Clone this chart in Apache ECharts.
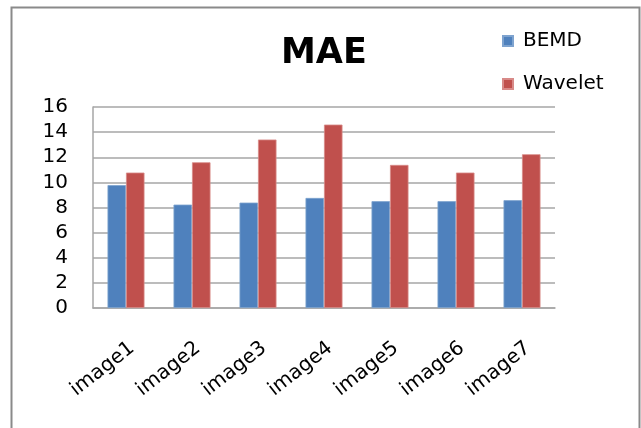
<!DOCTYPE html>
<html>
<head>
<meta charset="utf-8">
<title>MAE</title>
<script src="https://cdn.jsdelivr.net/npm/echarts@6/dist/echarts.min.js"></script>
<style>
  html, body { margin: 0; padding: 0; background: #fff; }
  #chart { width: 641px; height: 428px; }
</style>
</head>
<body>
<div id="chart"></div>
<script>
// Categories and series values
var categories = ['image1', 'image2', 'image3', 'image4', 'image5', 'image6', 'image7'];
var bemdValues = [9.78, 8.23, 8.39, 8.76, 8.5, 8.5, 8.58];
var waveletValues = [10.78, 11.6, 13.41, 14.6, 11.39, 10.78, 12.24];
var seriesNames = ['BEMD', 'Wavelet'];

var FONT = '"DejaVu Sans", "Liberation Sans", sans-serif';

var chart = echarts.init(document.getElementById('chart'), null, { renderer: 'canvas' });

chart.setOption({
  backgroundColor: '#ffffff',
  animation: false,
  textStyle: { fontFamily: FONT, color: '#000' },
  title: {
    text: 'MAE',
    left: 281,
    top: 36,
    padding: 0,
    textStyle: { fontFamily: FONT, fontSize: 35, fontWeight: 'bold', color: '#000', lineHeight: 35 }
  },
  legend: {
    orient: 'vertical',
    left: 502,
    top: 31,
    padding: 0,
    itemWidth: 10,
    itemHeight: 10,
    itemGap: 23,
    icon: 'rect',
    data: seriesNames,
    textStyle: { fontFamily: FONT, fontSize: 20, color: '#000', lineHeight: 20, padding: [0, 0, 0, 5] }
  },
  graphic: [{
    type: 'rect',
    shape: { x: 11.5, y: 7.5, width: 628, height: 440 },
    style: { fill: 'none', stroke: '#8a8a8a', lineWidth: 2 },
    silent: true,
    z: -1
  }],
  grid: { left: 93, right: 86, top: 107, bottom: 120, containLabel: false },
  xAxis: {
    type: 'category',
    data: categories,
    axisLine: { show: true, lineStyle: { color: '#a6a6a6', width: 1.5 } },
    axisTick: { show: false },
    axisLabel: {
      rotate: 38,
      margin: 30,
      fontSize: 20,
      fontFamily: FONT,
      color: '#000',
      verticalAlign: 'top',
      interval: 0
    }
  },
  yAxis: {
    type: 'value',
    min: 0,
    max: 16,
    interval: 2,
    axisLine: { show: true, lineStyle: { color: '#a6a6a6', width: 1.5 } },
    axisTick: { show: false },
    splitLine: { show: true, lineStyle: { color: '#a6a6a6', width: 1.5 } },
    axisLabel: { fontSize: 20, fontFamily: FONT, color: '#000', margin: 25 }
  },
  series: [
    {
      name: seriesNames[0],
      type: 'bar',
      data: bemdValues,
      barGap: '0%',
      barCategoryGap: '44%',
      itemStyle: { color: '#4f81bd', borderColor: '#7ea3cf', borderWidth: 0.8 }
    },
    {
      name: seriesNames[1],
      type: 'bar',
      data: waveletValues,
      barGap: '0%',
      barCategoryGap: '44%',
      itemStyle: { color: '#c0504d', borderColor: '#d88a88', borderWidth: 0.8 }
    }
  ]
});
</script>
</body>
</html>
